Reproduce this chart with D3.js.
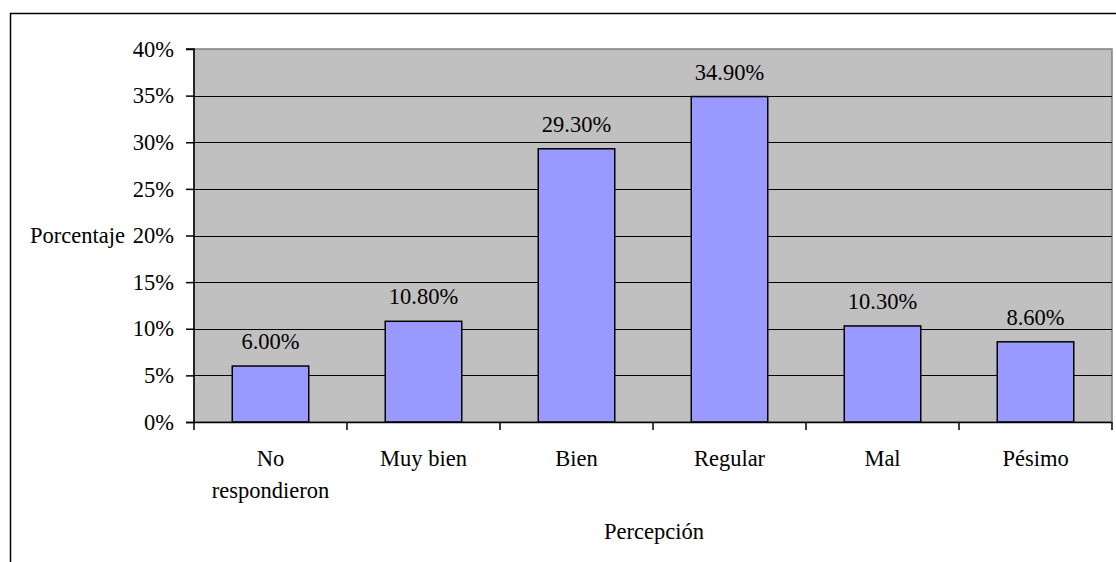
<!DOCTYPE html>
<html><head><meta charset="utf-8">
<script src="https://cdn.jsdelivr.net/npm/d3@7"></script>
<style>body{margin:0;background:#fff;} svg{display:block;} text{font-family:"Liberation Serif","Times New Roman",serif;fill:#000;}</style>
</head><body>
<svg id="c" width="1116" height="562"></svg>
<script>
const categories = [["No","respondieron"],["Muy bien"],["Bien"],["Regular"],["Mal"],["Pésimo"]];
const values = [6.0, 10.8, 29.3, 34.9, 10.3, 8.6];
const yTicks = [0,5,10,15,20,25,30,35,40];
const yTitle = "Porcentaje";
const xTitle = "Percepción";

const FS = 22.5;
const svg = d3.select("#c");
const m = {left:194, right:1112, top:49, bottom:422};
// outer frame
svg.append("rect").attr("x",10.5).attr("y",13.5).attr("width",1200).attr("height",700)
  .attr("fill","#fff").attr("stroke","#000").attr("stroke-width",1.5);

const x = d3.scaleBand().domain(d3.range(categories.length)).range([m.left,m.right]).paddingInner(0.5).paddingOuter(0.25);
const y = d3.scaleLinear().domain([0,40]).range([m.bottom,m.top]);

svg.append("rect").attr("x",m.left).attr("y",m.top).attr("width",m.right-m.left).attr("height",m.bottom-m.top)
  .attr("fill","#c0c0c0").attr("stroke","#808080").attr("stroke-width",1.5);

// gridlines
svg.append("g").selectAll("line").data(yTicks.filter(t=>t>0&&t<40)).join("line")
  .attr("x1",m.left).attr("x2",m.right).attr("y1",d=>Math.round(y(d))+0.5).attr("y2",d=>Math.round(y(d))+0.5)
  .attr("stroke","#000").attr("stroke-width",1);

// bars
svg.append("g").selectAll("rect").data(values).join("rect")
  .attr("x",(d,i)=>x(i)).attr("width",x.bandwidth())
  .attr("y",d=>y(d)).attr("height",d=>m.bottom-y(d))
  .attr("fill","#9999ff").attr("stroke","#000").attr("stroke-width",1.5);

// value labels
svg.append("g").selectAll("text").data(values).join("text")
  .attr("x",(d,i)=>x(i)+x.bandwidth()/2).attr("y",d=>y(d)-17)
  .attr("text-anchor","middle").attr("font-size",FS).text(d=>d.toFixed(2)+"%");

// y axis
const yAxis = d3.axisLeft(y).tickValues(yTicks).tickFormat(d=>d+"%").tickSize(8).tickPadding(12);
const ya = svg.append("g").attr("transform",`translate(${m.left},0)`).call(yAxis);
ya.attr("font-size",FS).attr("font-family",null);
ya.select(".domain").attr("stroke","#000").attr("stroke-width",1.5).attr("d",`M-8,${y(40)}H0V${y(0)}`);
ya.selectAll(".tick line").attr("stroke","#000").attr("stroke-width",1.5);
ya.selectAll(".tick text").attr("font-size",FS).attr("fill","#000");

// x axis
const xs = d3.scalePoint().domain(d3.range(categories.length+1)).range([m.left,m.right]);
const xa = svg.append("g");
xa.append("line").attr("x1",m.left-8).attr("x2",m.right).attr("y1",m.bottom+0.5).attr("y2",m.bottom+0.5).attr("stroke","#000").attr("stroke-width",1.5);
xa.selectAll("line.t").data(d3.range(categories.length+1)).join("line").attr("class","t")
  .attr("x1",d=>xs(d)).attr("x2",d=>xs(d)).attr("y1",m.bottom).attr("y2",m.bottom+8)
  .attr("stroke","#000").attr("stroke-width",1.5);
const cl = xa.selectAll("text").data(categories).join("text")
  .attr("text-anchor","middle").attr("font-size",FS)
  .attr("transform",(d,i)=>`translate(${x(i)+x.bandwidth()/2},466)`);
cl.selectAll("tspan").data(d=>d).join("tspan").attr("x",0).attr("dy",(d,i)=>i?32:0).text(d=>d);

svg.append("text").attr("x",30).attr("y",243).attr("font-size",FS).text(yTitle);
svg.append("text").attr("x",654).attr("y",539).attr("text-anchor","middle").attr("font-size",FS).text(xTitle);
</script>
</body></html>
